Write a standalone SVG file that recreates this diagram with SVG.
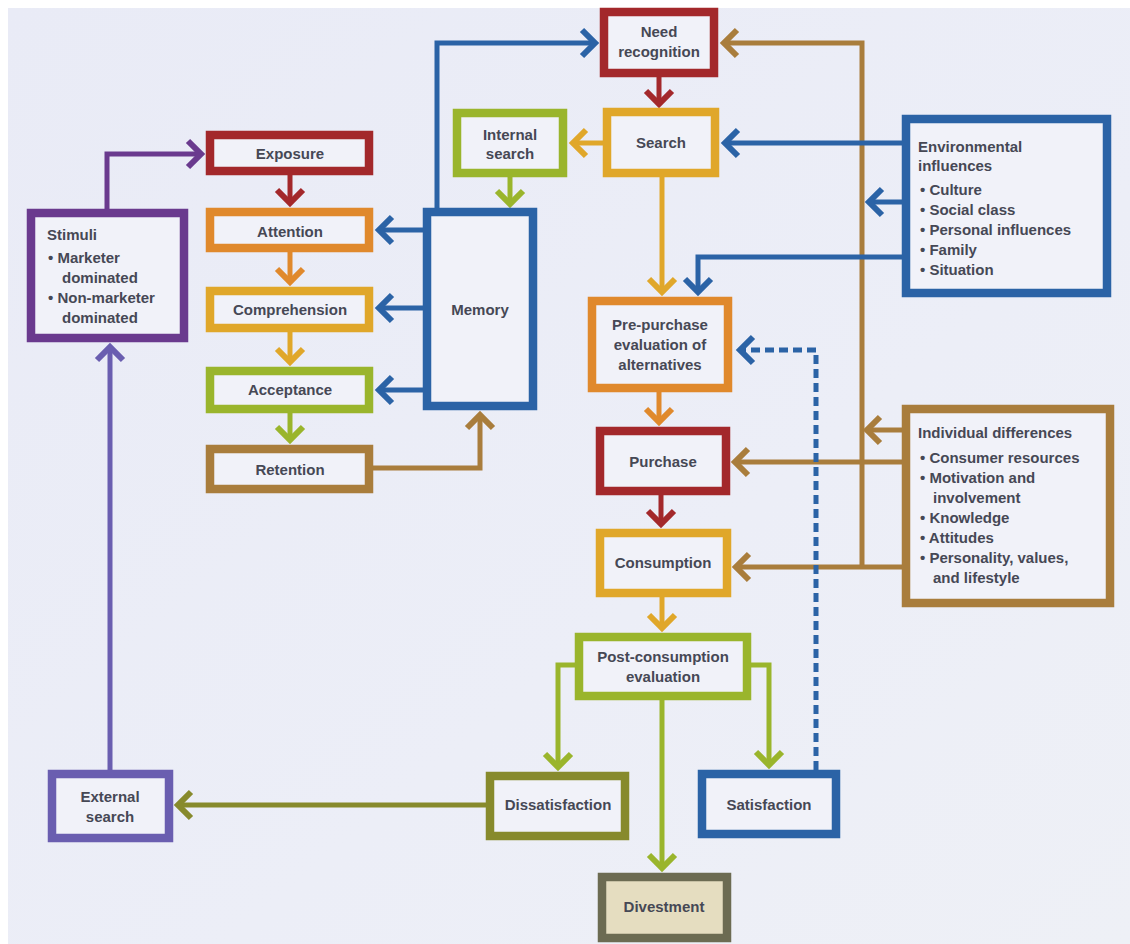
<svg xmlns="http://www.w3.org/2000/svg" width="1130" height="944" viewBox="0 0 1130 944">
<defs>
<linearGradient id="bg" x1="0" y1="0" x2="1" y2="1">
<stop offset="0" stop-color="#e9ebf6"/>
<stop offset="0.6" stop-color="#eceef7"/>
<stop offset="1" stop-color="#eef0f6"/>
</linearGradient>
<marker id="a-red" viewBox="-18 -18 24 36" markerWidth="24" markerHeight="36" refX="0" refY="0" markerUnits="userSpaceOnUse" orient="auto"><path d="M-13,-13 L0,0 L-13,13" fill="none" stroke="#a3282b" stroke-width="6"/></marker>
<marker id="a-org" viewBox="-18 -18 24 36" markerWidth="24" markerHeight="36" refX="0" refY="0" markerUnits="userSpaceOnUse" orient="auto"><path d="M-13,-13 L0,0 L-13,13" fill="none" stroke="#e0892c" stroke-width="6"/></marker>
<marker id="a-yel" viewBox="-18 -18 24 36" markerWidth="24" markerHeight="36" refX="0" refY="0" markerUnits="userSpaceOnUse" orient="auto"><path d="M-13,-13 L0,0 L-13,13" fill="none" stroke="#e0a72a" stroke-width="6"/></marker>
<marker id="a-grn" viewBox="-18 -18 24 36" markerWidth="24" markerHeight="36" refX="0" refY="0" markerUnits="userSpaceOnUse" orient="auto"><path d="M-13,-13 L0,0 L-13,13" fill="none" stroke="#9ab52c" stroke-width="6"/></marker>
<marker id="a-brn" viewBox="-18 -18 24 36" markerWidth="24" markerHeight="36" refX="0" refY="0" markerUnits="userSpaceOnUse" orient="auto"><path d="M-13,-13 L0,0 L-13,13" fill="none" stroke="#a97d3c" stroke-width="6"/></marker>
<marker id="a-blu" viewBox="-18 -18 24 36" markerWidth="24" markerHeight="36" refX="0" refY="0" markerUnits="userSpaceOnUse" orient="auto"><path d="M-13,-13 L0,0 L-13,13" fill="none" stroke="#2b63a6" stroke-width="6"/></marker>
<marker id="a-pur" viewBox="-18 -18 24 36" markerWidth="24" markerHeight="36" refX="0" refY="0" markerUnits="userSpaceOnUse" orient="auto"><path d="M-13,-13 L0,0 L-13,13" fill="none" stroke="#6a3a8e" stroke-width="6"/></marker>
<marker id="a-lav" viewBox="-18 -18 24 36" markerWidth="24" markerHeight="36" refX="0" refY="0" markerUnits="userSpaceOnUse" orient="auto"><path d="M-13,-13 L0,0 L-13,13" fill="none" stroke="#6a5eb0" stroke-width="6"/></marker>
<marker id="a-olv" viewBox="-18 -18 24 36" markerWidth="24" markerHeight="36" refX="0" refY="0" markerUnits="userSpaceOnUse" orient="auto"><path d="M-13,-13 L0,0 L-13,13" fill="none" stroke="#878a2c" stroke-width="6"/></marker>
</defs>
<style>
.box{fill:#f1f2f9;stroke-width:8.5}
.t{font-family:"Liberation Sans",Arial,sans-serif;font-weight:bold;font-size:15px;fill:#464855;text-anchor:middle}
.tl{font-family:"Liberation Sans",Arial,sans-serif;font-weight:bold;font-size:15px;fill:#464855;text-anchor:start}
.c{fill:none;stroke-width:5}
.red{stroke:#a3282b}.org{stroke:#e0892c}.yel{stroke:#e0a72a}.grn{stroke:#9ab52c}.brn{stroke:#a97d3c}.blu{stroke:#2b63a6}.pur{stroke:#6a3a8e}.lav{stroke:#6a5eb0}.olv{stroke:#878a2c}.dov{stroke:#6c6b52}
</style>
<rect x="0" y="0" width="1130" height="944" fill="#ffffff"/>
<rect x="8" y="8" width="1122" height="936" fill="url(#bg)"/>

<g id="connectors">
<path class="c red" d="M659,77 L659,104" marker-end="url(#a-red)"/>
<path class="c yel" d="M603,143 L573,143" marker-end="url(#a-yel)"/>
<path class="c grn" d="M510,177 L510,204" marker-end="url(#a-grn)"/>
<path class="c blu" d="M437,208 L437,43 L595,43" marker-end="url(#a-blu)"/>
<path class="c brn" d="M862,567 L862,43 L724,43" marker-end="url(#a-brn)"/>
<path class="c blu" d="M902,143 L725,143" marker-end="url(#a-blu)"/>
<path class="c blu" d="M902,202 L869,202" marker-end="url(#a-blu)"/>
<path class="c blu" d="M902,257 L698,257 L698,292" marker-end="url(#a-blu)"/>
<path class="c yel" d="M662,177 L662,292" marker-end="url(#a-yel)"/>
<path class="c blu" d="M423,230 L379,230" marker-end="url(#a-blu)"/>
<path class="c blu" d="M423,308 L379,308" marker-end="url(#a-blu)"/>
<path class="c blu" d="M423,390 L379,390" marker-end="url(#a-blu)"/>
<path class="c red" d="M290,175 L290,203" marker-end="url(#a-red)"/>
<path class="c org" d="M290,252 L290,282" marker-end="url(#a-org)"/>
<path class="c yel" d="M290,332 L290,362" marker-end="url(#a-yel)"/>
<path class="c grn" d="M290,413 L290,440" marker-end="url(#a-grn)"/>
<path class="c brn" d="M373,468 L480,468 L480,415" marker-end="url(#a-brn)"/>
<path class="c pur" d="M107,209 L107,154 L201,154" marker-end="url(#a-pur)"/>
<path class="c lav" d="M110,770 L110,347" marker-end="url(#a-lav)"/>
<path class="c org" d="M659,392 L659,422" marker-end="url(#a-org)"/>
<path class="c red" d="M661,495 L661,524" marker-end="url(#a-red)"/>
<path class="c yel" d="M662,597 L662,628" marker-end="url(#a-yel)"/>
<path class="c brn" d="M902,430 L867,430" marker-end="url(#a-brn)"/>
<path class="c brn" d="M902,462 L735,462" marker-end="url(#a-brn)"/>
<path class="c brn" d="M902,567 L736,567" marker-end="url(#a-brn)"/>
<path class="c grn" d="M575,665 L558,665 L558,767" marker-end="url(#a-grn)"/>
<path class="c grn" d="M751,665 L769,665 L769,765" marker-end="url(#a-grn)"/>
<path class="c grn" d="M662,700 L662,868" marker-end="url(#a-grn)"/>
<path class="c olv" d="M486,805 L178,805" marker-end="url(#a-olv)"/>
<path class="c blu" d="M816,770 L816,350 L740,350" stroke-dasharray="9 5" marker-end="url(#a-blu)"/>
</g>

<g id="need-recognition"><rect class="box red" x="604" y="12" width="110" height="61"/><text class="t" x="659" y="37">Need</text><text class="t" x="659" y="57">recognition</text></g>
<g id="search"><rect class="box yel" x="607" y="112" width="108" height="61"/><text class="t" x="661" y="148">Search</text></g>
<g id="internal-search"><rect class="box grn" x="457" y="113" width="106" height="60"/><text class="t" x="510" y="140">Internal</text><text class="t" x="510" y="159">search</text></g>
<g id="environmental-influences"><rect class="box blu" x="906" y="119" width="201" height="174"/>
<text class="tl" x="918" y="152">Environmental</text><text class="tl" x="918" y="171">influences</text>
<text class="tl" x="920" y="195">• Culture</text><text class="tl" x="920" y="215">• Social class</text><text class="tl" x="920" y="235">• Personal influences</text><text class="tl" x="920" y="255">• Family</text><text class="tl" x="920" y="275">• Situation</text></g>
<g id="exposure"><rect class="box red" x="210" y="135" width="159" height="36"/><text class="t" x="290" y="159">Exposure</text></g>
<g id="stimuli"><rect class="box pur" x="31" y="213" width="153" height="125"/>
<text class="tl" x="47" y="240">Stimuli</text><text class="tl" x="48" y="263">• Marketer</text><text class="tl" x="62" y="283">dominated</text><text class="tl" x="48" y="303">• Non-marketer</text><text class="tl" x="62" y="323">dominated</text></g>
<g id="attention"><rect class="box org" x="210" y="212" width="159" height="36"/><text class="t" x="290" y="237">Attention</text></g>
<g id="memory"><rect class="box blu" x="427" y="212" width="106" height="194"/><text class="t" x="480" y="315">Memory</text></g>
<g id="comprehension"><rect class="box yel" x="210" y="291" width="159" height="37"/><text class="t" x="290" y="315">Comprehension</text></g>
<g id="acceptance"><rect class="box grn" x="210" y="371" width="159" height="38"/><text class="t" x="290" y="395">Acceptance</text></g>
<g id="retention"><rect class="box brn" x="210" y="449" width="159" height="40"/><text class="t" x="290" y="475">Retention</text></g>
<g id="pre-purchase"><rect class="box org" x="592" y="301" width="136" height="87"/><text class="t" x="660" y="330">Pre-purchase</text><text class="t" x="660" y="350">evaluation of</text><text class="t" x="660" y="370">alternatives</text></g>
<g id="purchase"><rect class="box red" x="600" y="431" width="126" height="60"/><text class="t" x="663" y="467">Purchase</text></g>
<g id="consumption"><rect class="box yel" x="600" y="533" width="127" height="60"/><text class="t" x="663" y="568">Consumption</text></g>
<g id="individual-differences"><rect class="box brn" x="906" y="409" width="204" height="194"/>
<text class="tl" x="918" y="438">Individual differences</text><text class="tl" x="920" y="463">• Consumer resources</text><text class="tl" x="920" y="483">• Motivation and</text><text class="tl" x="933" y="503">involvement</text><text class="tl" x="920" y="523">• Knowledge</text><text class="tl" x="920" y="543">• Attitudes</text><text class="tl" x="920" y="563">• Personality, values,</text><text class="tl" x="933" y="583">and lifestyle</text></g>
<g id="post-consumption"><rect class="box grn" x="579" y="637" width="168" height="59"/><text class="t" x="663" y="662">Post-consumption</text><text class="t" x="663" y="682">evaluation</text></g>
<g id="dissatisfaction"><rect class="box olv" x="490" y="776" width="135" height="60"/><text class="t" x="558" y="810">Dissatisfaction</text></g>
<g id="satisfaction"><rect class="box blu" x="702" y="774" width="134" height="60"/><text class="t" x="769" y="810">Satisfaction</text></g>
<g id="external-search"><rect class="box lav" x="52" y="774" width="117" height="64"/><text class="t" x="110" y="802">External</text><text class="t" x="110" y="822">search</text></g>
<g id="divestment"><rect class="box dov" x="602" y="877" width="125" height="61" style="fill:#e5ddc0"/><text class="t" x="664" y="912">Divestment</text></g>
</svg>
